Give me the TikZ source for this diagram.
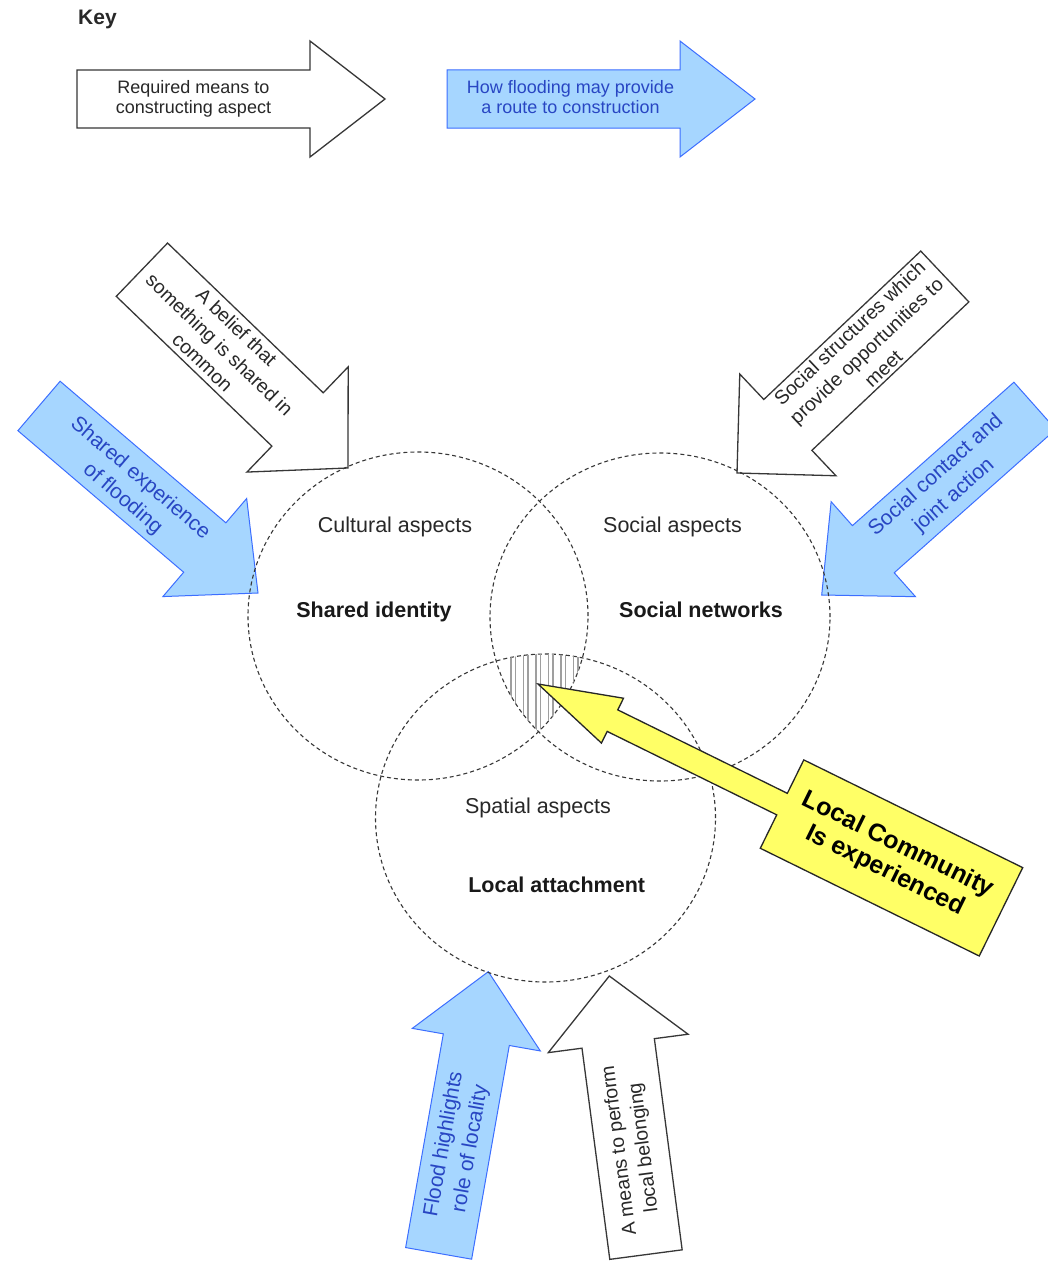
\documentclass[tikz,border=0pt]{standalone}
\usepackage{fontspec}
\setmainfont{Liberation Sans}
\usetikzlibrary{shapes.geometric}
\definecolor{bluefill}{RGB}{166,214,255}
\definecolor{blueline}{RGB}{60,110,255}
\definecolor{bluetext}{RGB}{40,70,195}
\definecolor{yellowfill}{RGB}{255,255,102}
\definecolor{darkline}{RGB}{55,55,55}
\definecolor{textgray}{RGB}{40,40,40}
% name, tip x, tip y, angle, length, shaft width, head width, head length, style
\newcommand{\blkarrow}[9]{%
  \begin{scope}[shift={(#2,#3)},rotate=#4]
    \draw[#9] (0,0) -- (-#8,#7/2) -- (-#8,#6/2) -- (-#5,#6/2) -- (-#5,-#6/2)
      -- (-#8,-#6/2) -- (-#8,-#7/2) -- cycle;
    \coordinate (#1) at ({-(#5+#8)/2},0);
  \end{scope}}
\begin{document}
\begin{tikzpicture}[x=1pt,y=-1pt,
  whitearrow/.style={draw=darkline, fill=white, line width=1.3pt, line join=miter},
  bluearrow/.style={draw=blueline, fill=bluefill, line width=1pt, line join=miter},
  yellowarrow/.style={draw=black!85, fill=yellowfill, line width=1.3pt, line join=miter},
  ring/.style={draw=darkline, dash pattern=on 4pt off 3pt, line width=1.1pt, ellipse,
    minimum width=340pt, minimum height=328pt, inner sep=0pt},
  hatchline/.style={draw=gray!75, line width=1.1pt},
  keytext/.style={align=center, text=textgray, font=\fontsize{18}{20}\selectfont, inner sep=0pt},
  wtext/.style={align=center, text=textgray, font=\fontsize{19.5}{24.5}\selectfont, inner sep=0pt},
  btext/.style={align=center, text=bluetext, font=\fontsize{21}{27}\selectfont, inner sep=0pt},
  asptext/.style={text=textgray, font=\fontsize{21.5}{24}\selectfont, inner sep=0pt, anchor=base},
  maintext/.style={text=black!90, font=\bfseries\fontsize{21.5}{24}\selectfont, inner sep=0pt, anchor=base}
]
\useasboundingbox (0,0) rectangle (1048,1263);
\clip (0,0) rectangle (1048,1263);
\fill[white] (0,0) rectangle (1048,1263);

% Key
\node[text=textgray, font=\bfseries\fontsize{21}{24}\selectfont, inner sep=0pt, anchor=base west] (key) at (78,25) {Key};
\blkarrow{k1}{385}{99}{0}{308}{58}{116}{75}{whitearrow}
\node[keytext] (k1t) at (k1) {Required means to\\constructing aspect};
\blkarrow{k2}{755}{99}{0}{308}{58}{116}{75}{bluearrow}
\node[keytext, text=bluetext] (k2t) at ([xshift=7pt,yshift=2pt]k2) {How flooding may provide\\a route to construction};

% arrows toward the circles
\blkarrow{belief}{348}{468}{-43.9}{286}{74}{146}{70}{whitearrow}
\node[wtext, rotate=-43.9] (belieft) at (belief) {A belief that\\something is shared in\\common};

\blkarrow{shexp}{258}{593}{-40.5}{288}{65}{129}{70}{bluearrow}
\node[btext, rotate=-40.5, xshift=15pt, yshift=-3pt] (shexpt) at (shexp) {Shared experience\\of flooding};

\blkarrow{sstruct}{737}{473}{-136.6}{286}{70}{140}{70}{whitearrow}
\node[wtext, rotate=43.4] (sstructt) at (sstruct) {Social structures which\\provide opportunities to\\meet};

\blkarrow{scont}{821.7}{595}{-138.4}{285}{63}{127}{69}{bluearrow}
\node[btext, rotate=41.6, xshift=-12pt] (scontt) at (scont) {Social contact and\\joint action};

\blkarrow{flood}{488.3}{971.7}{80}{286}{67}{130}{69}{bluearrow}
\node[btext, rotate=80] (floodt) at (flood) {Flood highlights\\role of locality};

\blkarrow{means}{609.3}{976}{97.5}{281}{73}{141}{68}{whitearrow}
\node[wtext, rotate=97.5] (meanst) at (means) {A means to perform\\local belonging};

% circles
\node[ring] (cult) at (418,616) {};
\node[ring] (soc) at (660,617) {};
\node[ring] (spat) at (545.5,818) {};

% hatched triple intersection
\begin{scope}
  \clip (418,616) ellipse [x radius=170pt, y radius=164pt];
  \clip (660,617) ellipse [x radius=170pt, y radius=164pt];
  \clip (545.5,818) ellipse [x radius=170pt, y radius=164pt];
  \foreach \x in {511,523.5,...,580} {
    \draw[hatchline] (\x,640) -- (\x,790);
    \draw[hatchline] (\x+4.5,640) -- (\x+4.5,790);
  }
\end{scope}

% circle texts
\node[asptext] (culta) at (395,532) {Cultural aspects};
\node[maintext] (cultm) at (374,617.5) {Shared identity};
\node[asptext] (soca) at (672.5,532) {Social aspects};
\node[maintext] (socm) at (701,617) {Social networks};
\node[asptext] (spata) at (538,813) {Spatial aspects};
\node[maintext] (spatm) at (556.7,892) {Local attachment};

% yellow arrow
\begin{scope}[shift={(538,684)}, rotate=153.8]
  \draw[yellowarrow] (0,0) -- (-83,25) -- (-83,12) -- (-272,12) -- (-272,49.25)
    -- (-516,49.25) -- (-516,-49.25) -- (-272,-49.25) -- (-272,-12) -- (-83,-12)
    -- (-83,-25) -- cycle;
  \coordinate (lc) at (-394,0);
\end{scope}
\node[align=center, text=black, font=\bfseries\fontsize{25}{29}\selectfont, inner sep=0pt, rotate=-26.2] (lct) at (lc) {Local Community\\Is experienced};
\end{tikzpicture}
\end{document}
